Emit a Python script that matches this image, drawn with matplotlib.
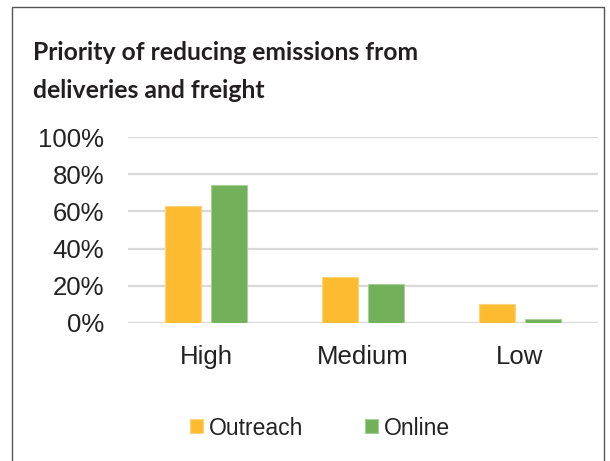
import matplotlib
matplotlib.use("Agg")
import matplotlib.pyplot as plt
import numpy as np
from matplotlib.patches import Rectangle

categories = ["High", "Medium", "Low"]
outreach = [63, 25, 10]
online = [74, 21, 2]
yticks = [0, 20, 40, 60, 80, 100]

fig = plt.figure(figsize=(6.1, 4.61), dpi=100)
ax = fig.add_axes([128/610, 1-323/461, (598-128)/610, (323-137)/461])

x = np.arange(len(categories))
w = 0.23
gap = 0.032
ax.bar(x - w/2 - gap, outreach, w, color="#FDBC30", edgecolor="#FDD27A", linewidth=0.8, label="Outreach", zorder=3)
ax.bar(x + w/2 + gap, online, w, color="#72B05A", edgecolor="#A8D096", linewidth=0.8, label="Online", zorder=3)

ax.set_ylim(0, 100)
ax.set_xlim(-0.5, 2.5)
ax.set_yticks(yticks)
ax.set_yticklabels([f"{v}%" for v in yticks], fontfamily="Liberation Sans", fontsize=18.5, color="#222222")
ax.set_xticks(x)
ax.set_xticklabels(categories, fontfamily="Liberation Sans", fontsize=18.5, color="#222222")
ax.tick_params(axis="y", length=0, pad=17)
ax.tick_params(axis="x", length=0, pad=16)
ax.grid(axis="y", color="#D9D9D9", linewidth=1.6, zorder=0)
for s in ax.spines.values():
    s.set_visible(False)

fig.text(33/610, 1-52/461, "Priority of reducing emissions from", fontsize=17.8,
         fontweight="bold", fontfamily="Lato", color="#231F20", va="center")
fig.text(33/610, 1-90/461, "deliveries and freight", fontsize=17.8,
         fontweight="bold", fontfamily="Lato", color="#231F20", va="center")

leg = fig.legend(loc="center", bbox_to_anchor=(320/610, 1-428/461), ncol=2, frameon=False,
                 prop={"family": "Liberation Sans", "size": 16.5}, handlelength=0.55, handleheight=0.55,
                 handletextpad=0.25, columnspacing=2.7)
for t in leg.get_texts():
    t.set_color("#222222")

fig.patches.append(Rectangle((12/610, -0.05), (604-12)/610, 1.05-7/461,
                             transform=fig.transFigure, fill=False, edgecolor="#555555", linewidth=1.0))

fig.savefig("out.png", dpi=100)
